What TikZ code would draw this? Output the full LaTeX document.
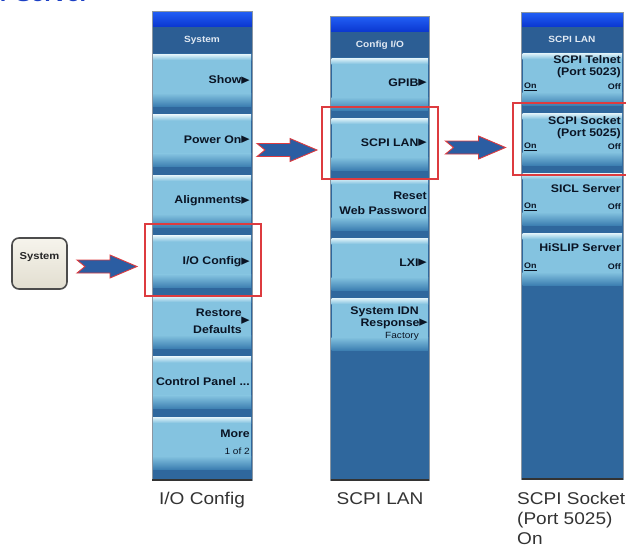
\documentclass[tikz,border=0pt]{standalone}
\usepackage{fontspec}
\setmainfont{Liberation Sans}
\newfontfamily\symfont{DejaVu Sans}
\usetikzlibrary{calc}

\definecolor{bartop}{HTML}{2260F6}
\definecolor{barbot}{HTML}{0A36CF}
\definecolor{panelblue}{HTML}{2F679D}
\definecolor{headblue}{HTML}{2C5E94}
\definecolor{btnbody}{HTML}{84C3E0}
\definecolor{btnhi}{HTML}{E4F4FA}
\definecolor{btnlow}{HTML}{3E80B2}
\definecolor{btnink}{HTML}{0A1424}
\definecolor{headink}{HTML}{E2EAF3}
\definecolor{framered}{HTML}{DD3B3F}
\definecolor{arrowblue}{HTML}{2B5DA2}
\definecolor{keytop}{HTML}{F6F4EC}
\definecolor{keybot}{HTML}{E2DED0}
\definecolor{capink}{HTML}{333333}
\definecolor{titleblue}{HTML}{1B3FC4}
\definecolor{rimgray}{HTML}{8A96A2}

\newcommand{\tri}{\raisebox{-0.3pt}{\scalebox{1.35}{\symfont ▸}}}
\newcommand{\wide}[1]{\scalebox{1.12}[1]{#1}}
\newcommand{\btnfont}{\fontsize{11}{12.5}\selectfont\bfseries}
\newcommand{\subfont}{\fontsize{9}{10}\selectfont}
\newcommand{\onfont}{\fontsize{8}{9}\selectfont\bfseries}
\newcommand{\headfont}{\fontsize{9}{10}\selectfont\bfseries}
\newcommand{\capfont}{\fontsize{17}{20.5}\selectfont}

% x0, x1, bar top, header top, header bottom, bottom
\newcommand{\menupanel}[6]{%
  \fill[panelblue] (#1,#3) rectangle (#2,#6);
  \shade[top color=bartop, bottom color=barbot] (#1,#3) rectangle (#2,#4);
  \fill[headblue] (#1,#4) rectangle (#2,#5);
}
% x0, x1, slot top
\newcommand{\menubtn}[3]{%
  \fill[btnbody] (#1+1,#3+1) rectangle (#2-1,#3+53);
  \shade[top color=btnhi, bottom color=btnbody] (#1+1,#3+1) rectangle (#2-1,#3+7);
  \shade[top color=btnbody, bottom color=btnlow] (#1+1,#3+40) rectangle (#2-1,#3+53);
}
% x0, x1, top, bottom
\newcommand{\panelrim}[4]{%
  \draw[rimgray, line width=0.8pt] (#1,#3) rectangle (#2,#4);
  \draw[black!80, line width=1.2pt] (#1,#4) -- (#2,#4);
}

\tikzset{
  btntext/.style={anchor=east, inner sep=0pt, font=\btnfont, text=btnink},
  subtext/.style={anchor=east, inner sep=0pt, font=\subfont, text=btnink},
  ontext/.style={inner sep=0pt, font=\onfont, text=btnink},
  headtext/.style={inner sep=0pt, font=\headfont, text=headink},
  captext/.style={inner sep=0pt, font=\capfont, text=capink},
  redframe/.style={draw=framered, line width=2.2pt, inner sep=0pt},
  keybox/.style={
    rectangle, rounded corners=7pt, draw=black!70, line width=1.6pt,
    top color=keytop, bottom color=keybot
  },
  fatarrow/.pic={
    \filldraw[fill=arrowblue, draw=framered, line width=0.9pt]
      (0,-6.5) -- (33,-6.5) -- (33,-11.5) -- (60,0) -- (33,11.5)
      -- (33,6.5) -- (0,6.5) -- (8,0) -- cycle;
  },
}

\begin{document}
\begin{tikzpicture}[x=1pt,y=-1pt]
\useasboundingbox (0,0) rectangle (626,547);

\node[anchor=base east, inner sep=0pt, font=\fontsize{21}{24}\selectfont\bfseries,
  text=titleblue] (title) at (89,1.5) {\wide{r Server}};

% front panel key
\node[keybox, minimum width=55pt, minimum height=51pt] (syskey) at (39.5,263.5) {};
\node[inner sep=0pt, font=\fontsize{10}{11}\selectfont\bfseries, text=black!85]
  (keylabel) at (39.5,257) {\wide{System}};

% System menu
\menupanel{152}{252}{11}{27}{53}{480}
\foreach \i in {0,...,6}{
  \pgfmathsetmacro\s{53+60.5*\i}
  \menubtn{152}{252}{\s}
}
\panelrim{152}{252}{11}{480}
\node[headtext] (syshead) at (202,40) {\wide{System}};
\node[btntext] (show) at (250,80) {\wide{Show\tri}};
\node[btntext] (poweron) at (250,140) {\wide{Power On\tri}};
\node[btntext] (align) at (250,201) {\wide{Alignments\tri}};
\node[btntext] (ioconf) at (250,262) {\wide{I/O Config\tri}};
\node[btntext] (restore) at (242,313) {\wide{Restore}};
\node[btntext] (defaults) at (242,330) {\wide{Defaults}};
\node[btntext] (restoretri) at (250,321) {\wide{\tri}};
\node[btntext] (ctrlpanel) at (250,382) {\wide{Control Panel ...}};
\node[btntext] (more) at (250,434) {\wide{More}};
\node[subtext] (pageno) at (250,451) {\wide{1 of 2}};

% Config I/O menu
\menupanel{330.5}{429}{16}{32}{57}{480}
\foreach \i in {0,...,4}{
  \pgfmathsetmacro\s{57+60*\i}
  \menubtn{330.5}{429}{\s}
}
\panelrim{330.5}{429}{16}{480}
\node[headtext] (cfghead) at (380,45) {\wide{Config I/O}};
\node[btntext] (gpib) at (427,83) {\wide{GPIB\tri}};
\node[btntext] (scpilan) at (427,143) {\wide{SCPI LAN\tri}};
\node[btntext] (reset) at (427,196) {\wide{Reset}};
\node[btntext] (webpw) at (427,211) {\wide{Web Password}};
\node[btntext] (lxi) at (427,263) {\wide{LXI\tri}};
\node[btntext] (sysidn) at (419,312) {\wide{System IDN}};
\node[btntext] (response) at (428,324) {\wide{Response\tri}};
\node[subtext] (factory) at (419,336) {\wide{Factory}};

% SCPI LAN menu
\menupanel{521.5}{623}{12}{27}{52}{479}
\foreach \i in {0,...,3}{
  \pgfmathsetmacro\s{52+60*\i}
  \menubtn{521.5}{623}{\s}
}
\panelrim{521.5}{623}{12}{479}
\node[headtext] (lanhead) at (572,39) {\wide{SCPI LAN}};
\node[btntext] (telnet) at (621,60) {\wide{SCPI Telnet}};
\node[btntext] (port23) at (621,73) {\wide{(Port 5023)}};
\node[ontext, anchor=west] (telneton) at (524,87) {\wide{\underline{On}}};
\node[ontext, anchor=east] (telnetoff) at (621,87) {\wide{Off}};
\node[btntext] (socket) at (621,121) {\wide{SCPI Socket}};
\node[btntext] (port25) at (621,134) {\wide{(Port 5025)}};
\node[ontext, anchor=west] (socketon) at (524,147) {\wide{\underline{On}}};
\node[ontext, anchor=east] (socketoff) at (621,147) {\wide{Off}};
\node[btntext] (sicl) at (621,189) {\wide{SICL Server}};
\node[ontext, anchor=west] (siclon) at (524,207) {\wide{\underline{On}}};
\node[ontext, anchor=east] (sicloff) at (621,207) {\wide{Off}};
\node[btntext] (hislip) at (621,248) {\wide{HiSLIP Server}};
\node[ontext, anchor=west] (hislipon) at (524,267) {\wide{\underline{On}}};
\node[ontext, anchor=east] (hislipoff) at (621,267) {\wide{Off}};

% highlight frames
\node[redframe, minimum width=116pt, minimum height=72pt] (ioframe) at (203,260) {};
\node[redframe, minimum width=116pt, minimum height=72pt] (lanframe) at (380,143) {};
\node[redframe, minimum width=116pt, minimum height=72pt] (sockframe) at (571,139) {};

% arrows
\pic at (77,266.5) {fatarrow};
\pic at (257,150) {fatarrow};
\pic at (445.5,147.5) {fatarrow};

% captions
\node[captext, anchor=base] (cap1) at (202,504) {\wide{I/O Config}};
\node[captext, anchor=base] (cap2) at (380,504) {\wide{SCPI LAN}};
\node[captext, anchor=base west] (cap3a) at (517,504) {\wide{SCPI Socket}};
\node[captext, anchor=base west] (cap3b) at (517,524) {\wide{(Port 5025)}};
\node[captext, anchor=base west] (cap3c) at (517,544) {\wide{On}};
\end{tikzpicture}
\end{document}
